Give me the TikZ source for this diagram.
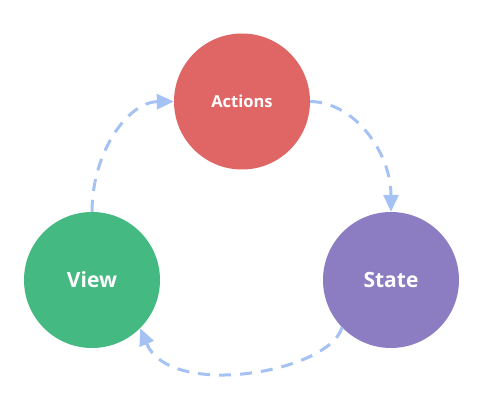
\documentclass[tikz,border=0pt]{standalone}
\usepackage{fontspec}
\setmainfont{Open Sans}
\usetikzlibrary{arrows.meta}
\definecolor{cAct}{HTML}{E06666}
\definecolor{cView}{HTML}{45B982}
\definecolor{cState}{HTML}{8C7DC2}
\definecolor{cArr}{HTML}{A4C2F4}
\tikzset{
  bubble/.style={circle, minimum size=136pt, inner sep=0pt, text=white, font=\bfseries},
  flow/.style={draw=cArr, line width=3pt, dash pattern=on 12pt off 9pt,
    -{Triangle[length=17pt,width=15pt]}}
}
\begin{document}
\begin{tikzpicture}[x=1pt,y=-1pt]
\useasboundingbox (0,0) rectangle (482,414);
\node[bubble, fill=cAct, font=\bfseries\fontsize{16.5}{18}\selectfont] (act) at (242,101.5) {Actions};
\node[bubble, fill=cView, font=\bfseries\fontsize{21}{24}\selectfont] (view) at (92,280) {View};
\node[bubble, fill=cState, font=\bfseries\fontsize{21}{24}\selectfont] (state) at (391,280) {State};
\draw[flow] (view.north) .. controls (92,152) and (128,102) .. (act.west);
\draw[flow] (act.east) .. controls (354,102) and (391,152) .. (state.north);
\draw[flow] (state.-136) .. controls (330,372) and (170,400) .. (view.-45);
\end{tikzpicture}
\end{document}
